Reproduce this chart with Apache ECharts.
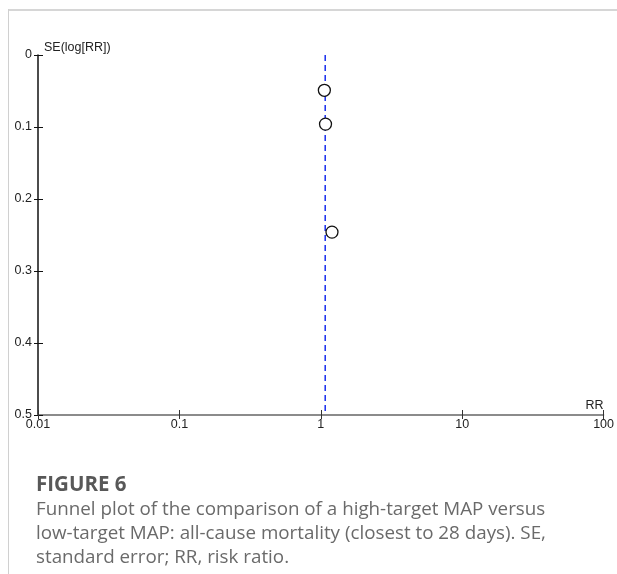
<!DOCTYPE html>
<html>
<head>
<meta charset="utf-8">
<script src="https://cdn.jsdelivr.net/npm/echarts@6/dist/echarts.min.js"></script>
<style>
html,body{margin:0;padding:0;background:#fff;width:617px;height:574px;overflow:hidden;}
#frameTop{position:absolute;left:8px;top:9px;width:609px;height:0;border-top:2px solid #d6d6d6;}
#frameLeft{position:absolute;left:8px;top:9px;width:0;height:565px;border-left:1px solid #d0d0d0;}
#chart{position:absolute;left:0;top:0;width:617px;height:574px;}
#cap{position:absolute;left:36px;top:470px;width:528px;font-family:"Open Sans",sans-serif;color:#6a6a6a;}
#cap .h{font-weight:bold;font-size:20.5px;color:#585858;line-height:26px;}
#cap .t{font-size:18.8px;line-height:24px;}
</style>
</head>
<body>
<div id="frameTop"></div>
<div id="frameLeft"></div>
<div id="chart"></div>
<div id="cap"><div class="h">FIGURE 6</div><div class="t">Funnel plot of the comparison of a high-target MAP versus low-target MAP: all-cause mortality (closest to 28 days). SE, standard error; RR, risk ratio.</div></div>
<script>
// Study points: risk ratio and standard error of log RR
const studyRR = [1.06, 1.08, 1.2];
const studySE = [0.049, 0.096, 0.246];
// Pooled estimate (vertical dashed line)
const pooledRR = 1.075;
const seRange = [0, 0.5];
const xTicks = [0.01, 0.1, 1, 10, 100];
const yTicks = [0, 0.1, 0.2, 0.3, 0.4, 0.5];

const points = studyRR.map((r, i) => [r, studySE[i]]);
const pooledLine = seRange.map(s => [pooledRR, s]);

const chart = echarts.init(document.getElementById('chart'), null, {renderer: 'canvas'});
const lblFont = {fontFamily: '"Liberation Sans", Arial, sans-serif', fontSize: 12.5, color: '#222'};
const xBase = {
  type: 'log', logBase: 10, min: xTicks[0], max: xTicks[xTicks.length - 1],
  splitLine: {show: false}, splitArea: {show: false}
};
const yBase = {
  type: 'value', inverse: true, min: yTicks[0], max: yTicks[yTicks.length - 1], interval: 0.1,
  splitLine: {show: false}, splitArea: {show: false}
};
chart.setOption({
  animation: false,
  grid: {left: 38, right: 11, top: 55, bottom: 159, containLabel: false},
  xAxis: [
    Object.assign({}, xBase, {
      position: 'bottom',
      name: 'RR', nameLocation: 'end', nameGap: 0,
      nameTextStyle: Object.assign({}, lblFont, {align: 'right', verticalAlign: 'bottom', padding: [0, 0, 3, 0]}),
      axisLine: {show: true, onZero: false, lineStyle: {color: '#666', width: 1.5}},
      axisTick: {show: true, inside: false, length: 4, lineStyle: {color: '#333', width: 1}},
      axisLabel: Object.assign({}, lblFont, {margin: 3})
    }),
    Object.assign({}, xBase, {
      position: 'bottom',
      axisLine: {show: false, onZero: false},
      axisTick: {show: true, inside: true, length: 5, lineStyle: {color: '#333', width: 1}},
      axisLabel: {show: false}
    })
  ],
  yAxis: [
    Object.assign({}, yBase, {
      position: 'left',
      name: 'SE(log[RR])', nameLocation: 'start', nameGap: 0,
      nameTextStyle: Object.assign({}, lblFont, {align: 'left', verticalAlign: 'bottom', padding: [0, 0, 1, 6]}),
      axisLine: {show: true, onZero: false, lineStyle: {color: '#111', width: 1.5}},
      axisTick: {show: true, inside: false, length: 4, lineStyle: {color: '#111', width: 1}},
      axisLabel: Object.assign({}, lblFont, {margin: 6,
        formatter: v => String(Math.round(v * 10) / 10)})
    }),
    Object.assign({}, yBase, {
      position: 'left',
      axisLine: {show: false, onZero: false},
      axisTick: {show: true, inside: true, length: 5, lineStyle: {color: '#111', width: 1}},
      axisLabel: {show: false}
    })
  ],
  series: [
    {
      type: 'line', data: pooledLine, xAxisIndex: 0, yAxisIndex: 0, z: 1,
      symbol: 'none', silent: true,
      lineStyle: {color: '#2236ee', width: 1.6, type: [6, 4]}
    },
    {
      type: 'scatter', data: points, xAxisIndex: 0, yAxisIndex: 0, z: 5,
      symbol: 'circle', symbolSize: 12,
      itemStyle: {color: '#ffffff', opacity: 1, borderColor: '#111', borderWidth: 1.3}
    }
  ]
});
</script>
</body>
</html>
